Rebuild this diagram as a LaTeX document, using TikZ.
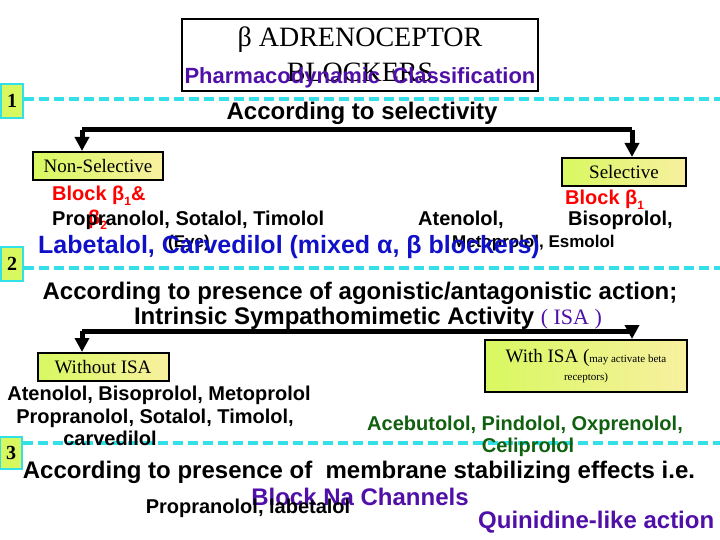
\documentclass[tikz,border=0pt]{standalone}
\usepackage{fontspec}
\setmainfont{Liberation Serif}
\newfontfamily\arial{Liberation Sans}
\usetikzlibrary{arrows.meta}
\definecolor{cyanl}{HTML}{33E0E8}
\definecolor{purp}{HTML}{5010A8}
\definecolor{blu}{HTML}{1010C8}
\definecolor{gre}{HTML}{106010}
\definecolor{yg}{HTML}{D8F860}
\definecolor{yl}{HTML}{F8F0A0}
\newcommand{\sub}[1]{\raisebox{-0.25em}{\fontsize{12}{12}\selectfont #1}}
\tikzset{
  numbox/.style={draw=cyanl,line width=2.5pt,fill=yg,inner sep=0pt,minimum width=22pt,minimum height=34pt,font=\fontsize{20}{20}\selectfont\bfseries},
  sep/.style={cyanl,line width=4.5pt,dash pattern=on 10pt off 5pt},
  catbox/.style={draw,line width=2pt,left color=yg,right color=yl,inner sep=0pt},
  bar/.style={line width=5pt},
  drop/.style={line width=5pt,-{Triangle[length=14pt,width=14pt]}},
  drug/.style={font=\arial\bfseries\fontsize{20}{20}\selectfont,inner sep=0pt},
  head/.style={font=\arial\bfseries\fontsize{24}{24}\selectfont,inner sep=0pt},
}
\begin{document}
\begin{tikzpicture}[x=1pt,y=-1pt]
\useasboundingbox (0,0) rectangle (720,540);
\clip (0,0) rectangle (720,540);
% title
\node[draw,line width=1.6pt,minimum width=356pt,minimum height=72pt,inner sep=0pt] (title) at (360,55) {};
\node[font=\fontsize{28}{28}\selectfont,inner sep=0pt] (t1) at (360,40) {β ADRENOCEPTOR};
\node[font=\fontsize{28}{28}\selectfont,inner sep=0pt] (t2) at (360,72) {BLOCKERS};
\node[font=\arial\bfseries\fontsize{22}{22}\selectfont,text=purp,inner sep=0pt] (t3) at (360,78) {Pharmacodynamic\ \ Classification};
% separators
\node[numbox] (n1) at (12,101) {1};
\coordinate (s1e) at (720,99);
\draw[sep] (n1.east|-s1e) -- (s1e);
\node[numbox] (n2) at (12,264) {2};
\coordinate (s2e) at (720,268);
\draw[sep] (n2.east|-s2e) -- (s2e);
\node[numbox,minimum height=32pt] (n3) at (11,453) {3};
\coordinate (s3e) at (720,443);
\draw[sep] (n3.east|-s3e) -- (s3e);
% section 1
\node[head] (h1) at (362,113) {According to selectivity};
\node[catbox,minimum width=130pt,minimum height=28pt] (ns) at (98,166) {\fontsize{19}{19}\selectfont Non-Selective};
\node[catbox,minimum width=124pt,minimum height=28pt] (se) at (624,172) {\fontsize{19}{19}\selectfont Selective};
\coordinate (b1l) at (82,130); \coordinate (b1r) at (632,130);
\draw[bar] (b1l) -- (b1r);
\draw[drop] (b1l) -- (b1l|-ns.north);
\draw[drop] (b1r) -- (b1r|-se.north);
\node[drug,text=red,anchor=west] (bk1) at (52,196) {Block β\sub{1}\&};
\node[drug,text=red,anchor=west] (bk2) at (88,220) {β\sub{2}};
\node[drug,anchor=west] (d1) at (52,220) {Propranolol, Sotalol, Timolol};
\node[drug,text=red,anchor=west] (bk3) at (565,200) {Block β\sub{1}};
\node[drug,anchor=west] (d2) at (418,220) {Atenolol,};
\node[drug,anchor=west] (d3) at (568,220) {Bisoprolol,};
\node[drug,font=\arial\bfseries\fontsize{17}{17}\selectfont,anchor=west] (d4) at (168,243) {(Eye)};
\node[drug,font=\arial\bfseries\fontsize{17}{17}\selectfont,anchor=west] (d5) at (452,243) {Metoprolol, Esmolol};
\node[font=\arial\bfseries\fontsize{25}{25}\selectfont,text=blu,inner sep=0pt,anchor=west] (lab) at (38,247) {Labetalol, Carvedilol (mixed α, β blockers)};
% section 2
\node[head] (h2a) at (360,293) {According to presence of agonistic/antagonistic action;};
\node[head] (h2b) at (368,318) {Intrinsic Sympathomimetic Activity {\normalfont\fontsize{22}{22}\selectfont\color{purp}( ISA )}};
\node[catbox,minimum width=131pt,minimum height=28pt] (wo) at (103,367) {\fontsize{19}{19}\selectfont Without ISA};
\node[catbox,minimum width=202pt,minimum height=52pt,align=center] (wi) at (586,366) {\fontsize{19}{19}\selectfont With ISA (\fontsize{11}{11}\selectfont may activate beta\\[6pt]\fontsize{11}{11}\selectfont receptors)};
\coordinate (b2l) at (82,331); \coordinate (b2r) at (632,331);
\draw[bar] (b2l) -- (b2r);
\draw[drop] (b2l) -- (b2l|-wo.north);
\draw[drop] (b2r) -- (b2r|-wi.north);
\node[drug] (e1) at (159,395) {Atenolol, Bisoprolol, Metoprolol};
\node[drug] (e2) at (155,418) {Propranolol, Sotalol, Timolol,};
\node[drug] (e3) at (110,438) {carvedilol};
\node[drug,text=gre] (f1) at (525,425) {Acebutolol, Pindolol, Oxprenolol,};
\node[drug,text=gre] (f2) at (528,447) {Celiprolol};
% section 3
\node[font=\arial\bfseries\fontsize{24}{24}\selectfont,inner sep=0pt] (h3) at (359,472) {According to presence of\ \ membrane stabilizing effects i.e.};
\node[font=\arial\bfseries\fontsize{24}{24}\selectfont,text=purp,inner sep=0pt] (na) at (360,497) {Block Na Channels};
\node[drug] (g1) at (248,508) {Propranolol, labetalol};
\node[font=\arial\bfseries\fontsize{24}{24}\selectfont,text=purp,inner sep=0pt,anchor=west] (q) at (478,522) {Quinidine-like action};
\end{tikzpicture}
\end{document}
